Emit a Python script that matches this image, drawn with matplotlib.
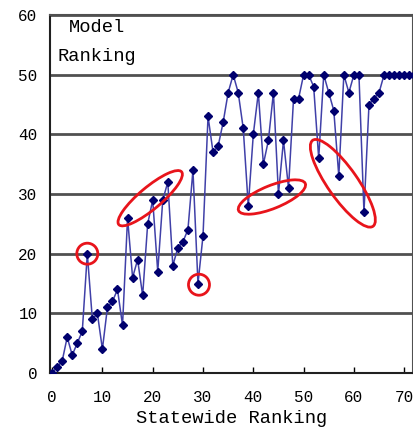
import matplotlib.pyplot as plt
from matplotlib.patches import Ellipse
from matplotlib.transforms import ScaledTranslation

# statewide ranking (x) vs model ranking (y)
statewide = list(range(0, 73))
model = [0, 1, 2, 6, 3, 5, 7, 20, 9, 10,
         4, 11, 12, 14, 8, 26, 16, 19, 13, 25,
         29, 17, 29, 32, 18, 21, 22, 24, 34, 15,
         23, 43, 37, 38, 42, 47, 50, 47, 41, 28,
         40, 47, 35, 39, 47, 30, 39, 31, 46, 46,
         50, 50, 48, 36, 50, 47, 44, 33, 50, 47,
         50, 50, 27, 45, 46, 47, 50, 50, 50, 50,
         50, 50, 50]

# red highlight marks: centre (data), width, height (inches), angle
circles = [(7, 20), (29.2, 14.8)]
ellipses = [((19.5, 29.3), 0.82, 0.22, 40),
            ((43.7, 29.5), 0.72, 0.23, 22),
            ((57.8, 31.8), 1.05, 0.30, -55)]

mono = 'Liberation Mono'

fig = plt.figure(figsize=(4.14, 4.43), dpi=100)
ax = fig.add_axes([0.121, 0.158, 0.876, 0.808])

ax.plot(statewide, model, color='#4040a8', lw=1.1, marker='D', markersize=4.2,
        markerfacecolor='#00006e', markeredgecolor='#00006e', zorder=3)

ax.set_xlim(-0.4, 71.7)
ax.set_ylim(0, 60)
ax.set_xticks(range(0, 71, 10))
ax.set_yticks(range(0, 61, 10))
ax.yaxis.grid(True, color='#505050', lw=2)
ax.set_axisbelow(True)
ax.tick_params(axis='x', direction='in', length=4, width=1, pad=12, labelsize=11.5)
ax.tick_params(axis='y', length=0, pad=9, labelsize=11.5)
for lab in ax.get_xticklabels() + ax.get_yticklabels():
    lab.set_fontfamily(mono)
for s in ['left', 'bottom']:
    ax.spines[s].set_color('#202020')
    ax.spines[s].set_linewidth(1.5)
for s in ['top', 'right']:
    ax.spines[s].set_color('#505050')
    ax.spines[s].set_linewidth(1.5)

ax.set_xlabel('Statewide Ranking', fontfamily=mono, fontsize=13.5, labelpad=4)

ax.text(0.13, 0.965, 'Model', transform=ax.transAxes, ha='center', va='center',
        fontfamily=mono, fontsize=13.5)
ax.text(0.13, 0.885, 'Ranking', transform=ax.transAxes, ha='center', va='center',
        fontfamily=mono, fontsize=13.5)

for cx, cy in circles:
    tr = fig.dpi_scale_trans + ScaledTranslation(cx, cy, ax.transData)
    ax.add_patch(Ellipse((0, 0), 0.21, 0.21, fill=False, ec='#e8141b', lw=2,
                         transform=tr, zorder=4))
for (cx, cy), w, h, ang in ellipses:
    tr = fig.dpi_scale_trans + ScaledTranslation(cx, cy, ax.transData)
    ax.add_patch(Ellipse((0, 0), w, h, angle=ang, fill=False, ec='#e8141b', lw=2,
                         transform=tr, zorder=4))

fig.savefig('out.png', dpi=100, facecolor='white')
